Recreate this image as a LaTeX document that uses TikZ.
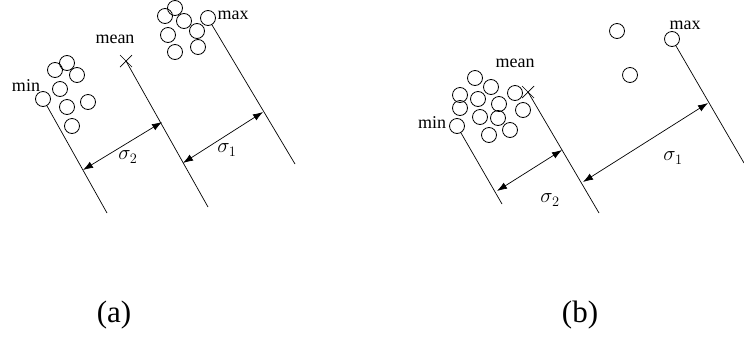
\documentclass[tikz,border=0pt]{standalone}
\usepackage{fontspec}
\setmainfont{Liberation Serif}
\usepackage{tikz}
\usetikzlibrary{arrows.meta, calc}
\tikzset{
  pt/.style={circle, draw, line width=0.8pt, minimum size=15pt, inner sep=0pt},
  axis/.style={line width=0.7pt},
  dist/.style={{Latex[length=10pt,width=7pt]}-{Latex[length=10pt,width=7pt]}, line width=0.7pt},
  lbl/.style={font=\fontsize{18}{18}\selectfont, inner sep=0pt},
  sig/.style={font=\fontsize{20}{20}\selectfont, inner sep=0pt},
  captext/.style={font=\fontsize{31}{31}\selectfont, inner sep=0pt}
}
\begin{document}
\begin{tikzpicture}[x=1pt, y=-1pt]
  \useasboundingbox (0,0) rectangle (744,338);

  % (a) small spread
  \node[pt] (aMin) at (43,99) {};
  \foreach \i/\p in {1/{55,70}, 2/{67,63}, 3/{77,75}, 4/{60,89}, 5/{88,102}, 6/{67,107}, 7/{72,126}}
    \node[pt] (aLo\i) at (\p) {};
  \node[pt] (aMax) at (208,18) {};
  \foreach \i/\p in {1/{165,16}, 2/{175,8}, 3/{184,21}, 4/{197,31}, 5/{168,35}, 6/{175,52}, 7/{198,47}}
    \node[pt] (aHi\i) at (\p) {};
  \node[lbl] (aMinT) at (26,86) {min};
  \node[lbl] (aMeanT) at (115,39) {mean};
  \node[lbl] (aMaxT) at (233,15) {max};
  \coordinate (aMean) at (126,61);
  \draw[axis] ($(aMean)+(-6,-6)$) -- ($(aMean)+(6,6)$);
  \draw[axis] ($(aMean)+(-6,6)$) -- ($(aMean)+(6,-6)$);

  \coordinate (aMinE) at (107,213);
  \coordinate (aMeanE) at (208,207);
  \coordinate (aMaxE) at (295,164);
  \draw[axis] (aMin.-60) -- (aMinE);
  \draw[axis] (aMean) -- (aMeanE);
  \draw[axis] (aMax.-60) -- (aMaxE);

  \coordinate (aS2a) at (83,170);
  \coordinate (aS2b) at (162,122);
  \coordinate (aS1a) at (183,163);
  \coordinate (aS1b) at (263,112);
  \draw[dist] (aS2a) -- (aS2b);
  \draw[dist] (aS1a) -- (aS1b);
  \node[sig] (aSig2) at (128,157) {$\sigma_2$};
  \node[sig] (aSig1) at (227,150) {$\sigma_1$};
  \node[captext] (aCap) at (114,315) {(a)};

  % (b) large spread
  \node[pt] (bMin) at (457,126) {};
  \foreach \i/\p in {1/{475,78}, 2/{460,95}, 3/{491,87}, 4/{478,99}, 5/{515,93}, 6/{460,108},
                     7/{499,104}, 8/{523,110}, 9/{480,117}, 10/{498,118}, 11/{489,135}, 12/{510,130}}
    \node[pt] (bLo\i) at (\p) {};
  \node[pt] (bOut1) at (617,31) {};
  \node[pt] (bOut2) at (630,75) {};
  \node[pt] (bMax) at (672,39) {};
  \node[lbl] (bMinT) at (432,123) {min};
  \node[lbl] (bMeanT) at (515,63) {mean};
  \node[lbl] (bMaxT) at (685,25) {max};
  \coordinate (bMean) at (528,92);
  \draw[axis] ($(bMean)+(-6,-6)$) -- ($(bMean)+(6,6)$);
  \draw[axis] ($(bMean)+(-6,6)$) -- ($(bMean)+(6,-6)$);

  \coordinate (bMinE) at (502,204);
  \coordinate (bMeanE) at (599,213);
  \coordinate (bMaxE) at (744,163);
  \draw[axis] (bMin.-60) -- (bMinE);
  \draw[axis] (bMean) -- (bMeanE);
  \draw[axis] (bMax.-60) -- (bMaxE);

  \coordinate (bS2a) at (497,191);
  \coordinate (bS2b) at (562,150);
  \coordinate (bS1a) at (583,182);
  \coordinate (bS1b) at (708,103);
  \draw[dist] (bS2a) -- (bS2b);
  \draw[dist] (bS1a) -- (bS1b);
  \node[sig] (bSig2) at (550,200) {$\sigma_2$};
  \node[sig] (bSig1) at (673,158) {$\sigma_1$};
  \node[captext] (bCap) at (580,315) {(b)};
\end{tikzpicture}
\end{document}
